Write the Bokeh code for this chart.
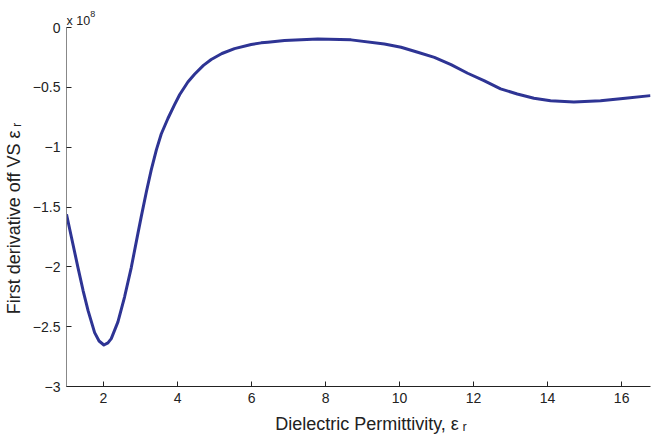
from bokeh.plotting import figure
from bokeh.models import Range1d, FixedTicker, Label
from bokeh.embed import file_html
from bokeh.resources import INLINE

# First derivative vs. relative permittivity (values in units of 1e8)
eps_r = [1.0, 1.135, 1.31, 1.45, 1.585, 1.76, 1.88, 2.01, 2.12, 2.21, 2.39,
         2.57, 2.75, 2.93, 3.02, 3.16, 3.29, 3.43, 3.56, 3.74, 3.92, 4.06,
         4.28, 4.46, 4.7, 4.91, 5.2, 5.54, 5.99, 6.26, 6.44, 6.89, 7.79,
         8.69, 9.59, 10.04, 10.49, 10.94, 11.39, 11.84, 12.28, 12.73, 13.18,
         13.63, 14.08, 14.71, 15.43, 16.1, 16.78]
deriv = [-1.56, -1.755, -2.006, -2.2, -2.368, -2.55, -2.62, -2.653, -2.635,
         -2.6, -2.46, -2.25, -2.006, -1.72, -1.58, -1.37, -1.19, -1.02,
         -0.89, -0.76, -0.645, -0.56, -0.455, -0.39, -0.316, -0.267,
         -0.217, -0.176, -0.142, -0.128, -0.123, -0.109, -0.095, -0.103,
         -0.137, -0.165, -0.206, -0.249, -0.31, -0.382, -0.444, -0.513,
         -0.555, -0.591, -0.611, -0.622, -0.611, -0.591, -0.569]

x_ticks = [2, 4, 6, 8, 10, 12, 14, 16]
y_ticks = [0, -0.5, -1, -1.5, -2, -2.5, -3]
y_tick_labels = ["0", "\u22120.5", "\u22121", "\u22121.5", "\u22122", "\u22122.5", "\u22123"]

FONT = "Liberation Sans"
INK = "#222222"
NBSP = "\u00a0"

# the frame reaches the top edge so the exponent note can sit above y = 0;
# the y axis line itself stops at 0 through its bounds
p = figure(width=651, height=439, output_backend="svg", toolbar_location=None,
           x_range=Range1d(1, 16.78), y_range=Range1d(-3, 0.226),
           min_border_left=65, min_border_right=1, min_border_top=0,
           min_border_bottom=53)
p.outline_line_color = None
p.grid.visible = False
p.background_fill_color = "white"
p.border_fill_color = "white"

p.line(eps_r, deriv, line_color="#2e3494", line_width=3, line_join="round")

for ax in (p.xaxis, p.yaxis):
    ax.major_tick_in = 5
    ax.major_tick_out = 0
    ax.minor_tick_line_color = None
    ax.major_label_text_font = FONT
    ax.major_label_text_font_size = "14px"
    ax.major_label_text_color = INK
    ax.major_tick_line_color = INK
    ax.axis_label_text_font = FONT
    ax.axis_label_text_font_size = "18px"
    ax.axis_label_text_font_style = "normal"
    ax.axis_label_text_color = INK

p.xaxis.ticker = FixedTicker(ticks=x_ticks)
p.xaxis.axis_line_color = INK
p.xaxis.major_label_standoff = 6
# leading blanks nudge the centred title to the right
p.xaxis.axis_label = NBSP * 5 + "Dielectric Permittivity, \u03b5\u2009\u1d63"
p.xaxis.axis_label_standoff = 8

p.yaxis.ticker = FixedTicker(ticks=y_ticks)
p.yaxis.bounds = (-3, 0)
p.yaxis.major_label_overrides = {t: s for t, s in zip(y_ticks, y_tick_labels)}
p.yaxis.axis_line_color = "#888888"
p.yaxis.major_label_standoff = 6
# trailing blanks keep the title centred on the bounded axis line
p.yaxis.axis_label = "First derivative off VS \u03b5\u2009\u1d63" + NBSP * 10
p.yaxis.axis_label_standoff = 6

# exponent note above the y axis
p.add_layout(Label(x=1.0, y=0.058, text="x 10", text_font=FONT,
                   text_font_size="12.5px", text_color=INK,
                   text_baseline="alphabetic"))
p.add_layout(Label(x=1.645, y=0.11, text="8", text_font=FONT,
                   text_font_size="9px", text_color=INK,
                   text_baseline="alphabetic"))

open("out.html", "w").write(file_html(p, INLINE))
